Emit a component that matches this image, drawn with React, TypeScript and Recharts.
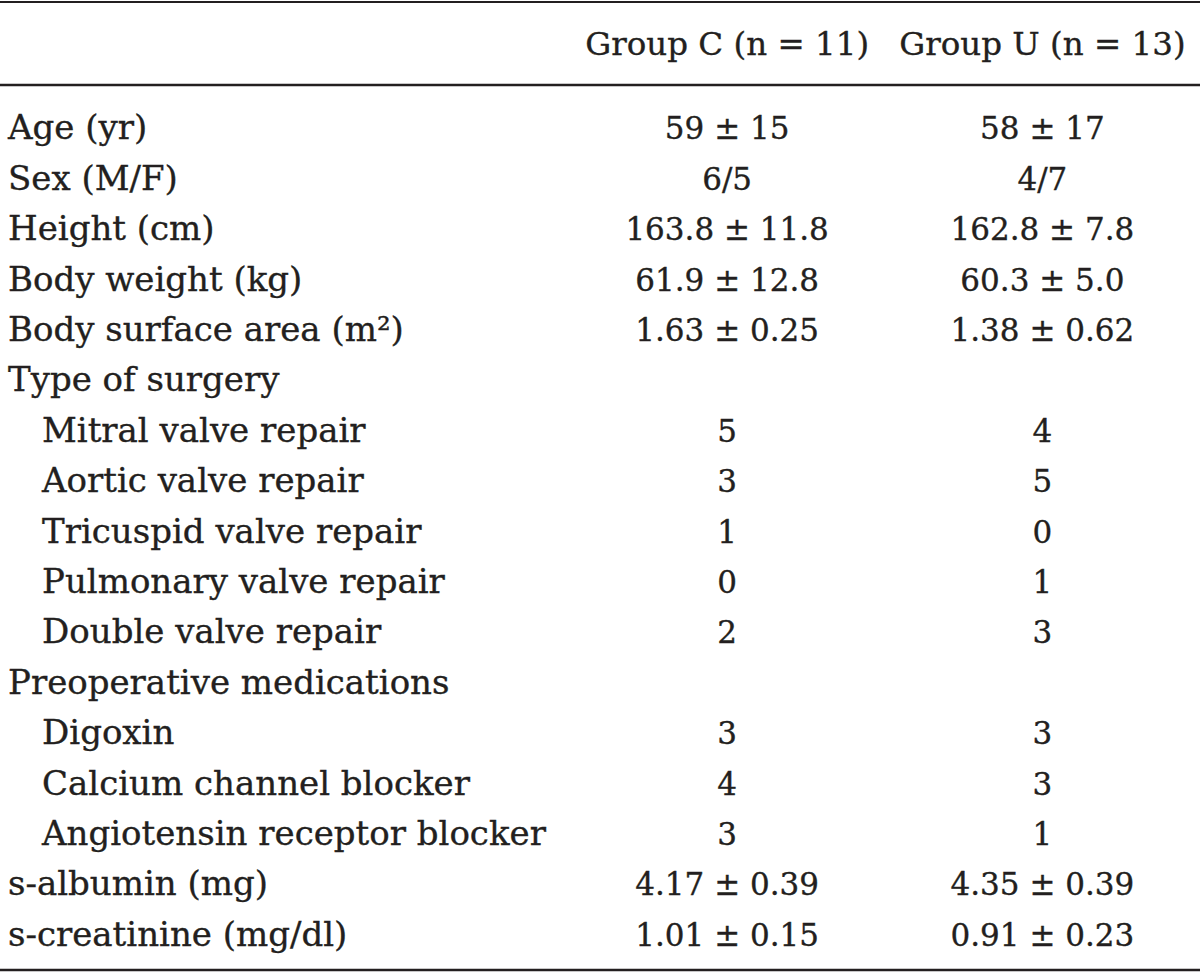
import { ScatterChart, Scatter, XAxis, YAxis } from 'recharts';

// table content
const groupLabels = ['Group C (n = 11)', 'Group U (n = 13)'];

const baselineRows = ['Age (yr)', 'Sex (M/F)', 'Height (cm)', 'Body weight (kg)', 'Body surface area (m²)'];
const surgeryTypes = [
  'Mitral valve repair',
  'Aortic valve repair',
  'Tricuspid valve repair',
  'Pulmonary valve repair',
  'Double valve repair',
];
const medications = ['Digoxin', 'Calcium channel blocker', 'Angiotensin receptor blocker'];
const labRows = ['s-albumin (mg)', 's-creatinine (mg/dl)'];

const rowLabels = [
  ...baselineRows,
  'Type of surgery',
  ...surgeryTypes,
  'Preoperative medications',
  ...medications,
  ...labRows,
];

const groupC = [
  '59 ± 15', '6/5', '163.8 ± 11.8', '61.9 ± 12.8', '1.63 ± 0.25',
  '',
  '5', '3', '1', '0', '2',
  '',
  '3', '4', '3',
  '4.17 ± 0.39', '1.01 ± 0.15',
];
const groupU = [
  '58 ± 17', '4/7', '162.8 ± 7.8', '60.3 ± 5.0', '1.38 ± 0.62',
  '',
  '4', '5', '0', '1', '3',
  '',
  '3', '3', '1',
  '4.35 ± 0.39', '0.91 ± 0.23',
];

const W = 1200;
const H = 975;
const FONT = "'DejaVu Serif', serif";
const INK = '#231f20';

const indented = new Set([...surgeryTypes, ...medications]);

const toPoints = (group: string, values: string[]) =>
  rowLabels.map((row, i) => ({ group, row, text: values[i] }));

const textStyle = { fontFamily: FONT, fill: INK, stroke: INK, strokeWidth: 0.35 };

const CellText = (p: any) => (
  <text x={p.cx} y={p.cy} dy={11} textAnchor="middle" fontSize={31} {...textStyle}>
    {p.payload.text}
  </text>
);

const RowTick = (p: any) => (
  <text
    x={indented.has(p.payload.value) ? 42 : 8}
    y={p.y}
    dy={11}
    textAnchor="start"
    fontSize={34}
    {...textStyle}
  >
    {p.payload.value}
  </text>
);

const HeadTick = (p: any) => (
  <text x={p.x} y={55} textAnchor="middle" fontSize={32.5} {...textStyle}>
    {p.payload.value}
  </text>
);

export default function App() {
  return (
    <div style={{ position: 'absolute', left: 0, top: 0, background: '#fff' }}>
      <ScatterChart width={W} height={H} margin={{ top: 0, right: 0, bottom: 15, left: 0 }}>
        <XAxis
          type="category"
          dataKey="group"
          orientation="top"
          allowDuplicatedCategory={false}
          interval={0}
          height={103.3}
          axisLine={false}
          tickLine={false}
          tick={HeadTick}
        />
        <YAxis
          type="category"
          dataKey="row"
          allowDuplicatedCategory={false}
          reversed
          interval={0}
          width={569.5}
          axisLine={false}
          tickLine={false}
          tick={RowTick}
        />
        <Scatter data={toPoints(groupLabels[0], groupC)} shape={CellText} isAnimationActive={false} />
        <Scatter data={toPoints(groupLabels[1], groupU)} shape={CellText} isAnimationActive={false} />
        <line x1={0} x2={W} y1={2} y2={2} stroke={INK} strokeWidth={2} />
        <line x1={0} x2={W} y1={85} y2={85} stroke={INK} strokeWidth={2.5} />
        <line x1={0} x2={W} y1={970} y2={970} stroke={INK} strokeWidth={2.5} />
      </ScatterChart>
    </div>
  );
}
